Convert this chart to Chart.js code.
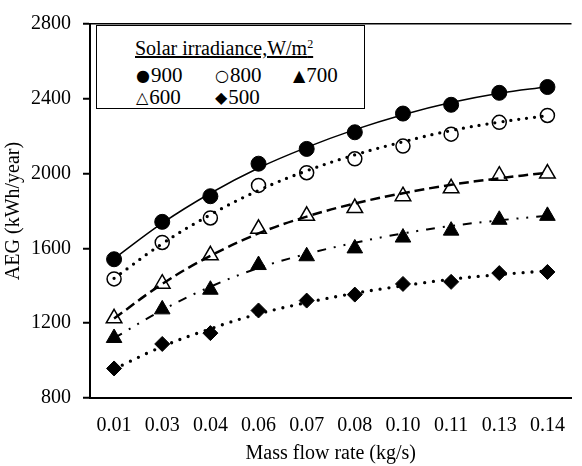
<!DOCTYPE html>
<html>
<head>
<meta charset="utf-8">
<script src="https://cdn.jsdelivr.net/npm/chart.js@4.4.1/dist/chart.umd.min.js"></script>
<style>
  body { margin: 0; background: #fff; }
  #wrap { position: relative; width: 582px; height: 466px; font-family: "Liberation Serif", "Times New Roman", serif; color: #000; }
  #legendBox { position: absolute; left: 96px; top: 25px; width: 269px; height: 84px; border: 1.5px solid #000; background: #fff; box-sizing: border-box; }
  .ltitle { position: absolute; left: 135px; top: 37px; font-size: 20px; line-height: 22px; text-decoration: underline; white-space: nowrap; }
  .ltitle sup { font-size: 12px; vertical-align: 7px; line-height: 0; }
  .item { position: absolute; height: 22px; line-height: 22px; font-size: 21px; white-space: nowrap; }
  .mk { font-family: "DejaVu Sans", sans-serif; font-size: 16px; margin-right: 1px; vertical-align: 1px; }
  .num { font-family: "Liberation Serif", "Times New Roman", serif; }
</style>
</head>
<body>
<div id="wrap">
  <canvas id="chart" width="582" height="466"></canvas>
  <div id="legendBox"></div>
  <div class="ltitle">Solar irradiance,W/m<sup>2</sup></div>
  <div class="item" style="left:136px;top:64px"><span class="mk">●</span><span class="num">900</span></div>
  <div class="item" style="left:215px;top:64px"><span class="mk">○</span><span class="num">800</span></div>
  <div class="item" style="left:293px;top:64px"><span class="mk">▲</span><span class="num">700</span></div>
  <div class="item" style="left:136px;top:86px"><span class="mk">△</span><span class="num">600</span></div>
  <div class="item" style="left:215px;top:86px"><span class="mk">◆</span><span class="num">500</span></div>
</div>
<script>
// data
const flowRates = ["0.01", "0.03", "0.04", "0.06", "0.07", "0.08", "0.10", "0.11", "0.13", "0.14"];
// markers
const aeg900 = [1542, 1742, 1879, 2053, 2132, 2221, 2321, 2368, 2432, 2463];
const aeg800 = [1437, 1632, 1763, 1937, 2005, 2079, 2147, 2211, 2274, 2311];
const aeg700 = [1121, 1274, 1379, 1511, 1558, 1600, 1658, 1695, 1753, 1774];
const aeg600 = [1226, 1411, 1563, 1705, 1774, 1816, 1879, 1921, 1989, 2000];
const aeg500 = [958, 1089, 1147, 1268, 1321, 1353, 1410, 1421, 1468, 1474];
// the drawn curves (read where each line crosses the category)
const curve900 = [1545, 1735, 1895, 2030, 2140, 2235, 2315, 2380, 2430, 2465];
const curve800 = [1440, 1625, 1780, 1910, 2015, 2100, 2170, 2230, 2275, 2310];
const curve700 = [1120, 1270, 1395, 1495, 1570, 1630, 1680, 1720, 1750, 1775];
const curve600 = [1225, 1410, 1560, 1680, 1770, 1840, 1895, 1940, 1975, 2005];
const curve500 = [955, 1075, 1170, 1250, 1310, 1360, 1400, 1435, 1460, 1480];
const yTicks = [800, 1200, 1600, 2000, 2400, 2800];

const font = { family: "'Liberation Serif', 'Times New Roman', serif", size: 20 };

const ctx = document.getElementById("chart").getContext("2d");

function curve(label, data, extra) {
  return Object.assign({
    label: label,
    data: data,
    borderColor: "#000",
    fill: false,
    tension: 0.4,
    pointRadius: 0,
    pointHoverRadius: 0,
    order: 1
  }, extra);
}

function marks(label, data, extra) {
  return Object.assign({
    label: label,
    data: data,
    showLine: false,
    pointBorderColor: "#000",
    pointBackgroundColor: "#000",
    pointBorderWidth: 1,
    pointHoverRadius: 0,
    order: 0
  }, extra);
}

const clear = "rgba(0,0,0,0)";

new Chart(ctx, {
  type: "line",
  data: {
    labels: flowRates,
    datasets: [
      curve("900 line", curve900, { borderWidth: 1.5 }),
      curve("800 line", curve800, { borderWidth: 3.3, borderDash: [0, 8], borderCapStyle: "round" }),
      curve("700 line", curve700, { borderWidth: 2, borderDash: [9, 8, 2, 8, 2, 8] }),
      curve("600 line", curve600, { borderWidth: 2.5, borderDash: [10, 5] }),
      curve("500 line", curve500, { borderWidth: 3.3, borderDash: [0, 9], borderCapStyle: "round" }),
      marks("900", aeg900, { pointStyle: "circle", pointRadius: 7.5 }),
      marks("800", aeg800, { pointStyle: "circle", pointRadius: 7, pointBackgroundColor: clear, pointBorderWidth: 1.5 }),
      marks("700", aeg700, { pointStyle: "triangle", pointRadius: 9 }),
      marks("600", aeg600, { pointStyle: "triangle", pointRadius: 9, pointBackgroundColor: clear, pointBorderWidth: 1.5 }),
      marks("500", aeg500, { pointStyle: "rectRot", pointRadius: 7.5 })
    ]
  },
  options: {
    responsive: false,
    animation: false,
    layout: { padding: { top: 18, right: 0, left: 0, bottom: 0 } },
    plugins: { legend: { display: false }, tooltip: { enabled: false } },
    scales: {
      x: {
        offset: true,
        grid: { display: false, drawTicks: false },
        border: { color: "#000", width: 2 },
        ticks: { color: "#000", font: font, padding: 16, maxRotation: 0, autoSkip: false },
        title: { display: true, text: "Mass flow rate (kg/s)", color: "#000", font: font, padding: 0 },
        afterFit: s => { s.height = 68; }
      },
      y: {
        min: yTicks[0],
        max: yTicks[yTicks.length - 1],
        ticks: { stepSize: 400, color: "#000", font: font, padding: 12, callback: v => String(v) },
        grid: {
          color: c => (c.tick && c.tick.value === yTicks[yTicks.length - 1]) ? "#000" : clear,
          lineWidth: 1.5,
          tickColor: "#000",
          tickLength: 7,
          tickWidth: 2
        },
        border: { color: "#000", width: 2 },
        title: { display: true, text: "AEG (kWh/year)", color: "#000", font: font, padding: { top: 2, bottom: 0 } },
        afterFit: s => { s.width = 90; }
      }
    }
  }
});
</script>
</body>
</html>
